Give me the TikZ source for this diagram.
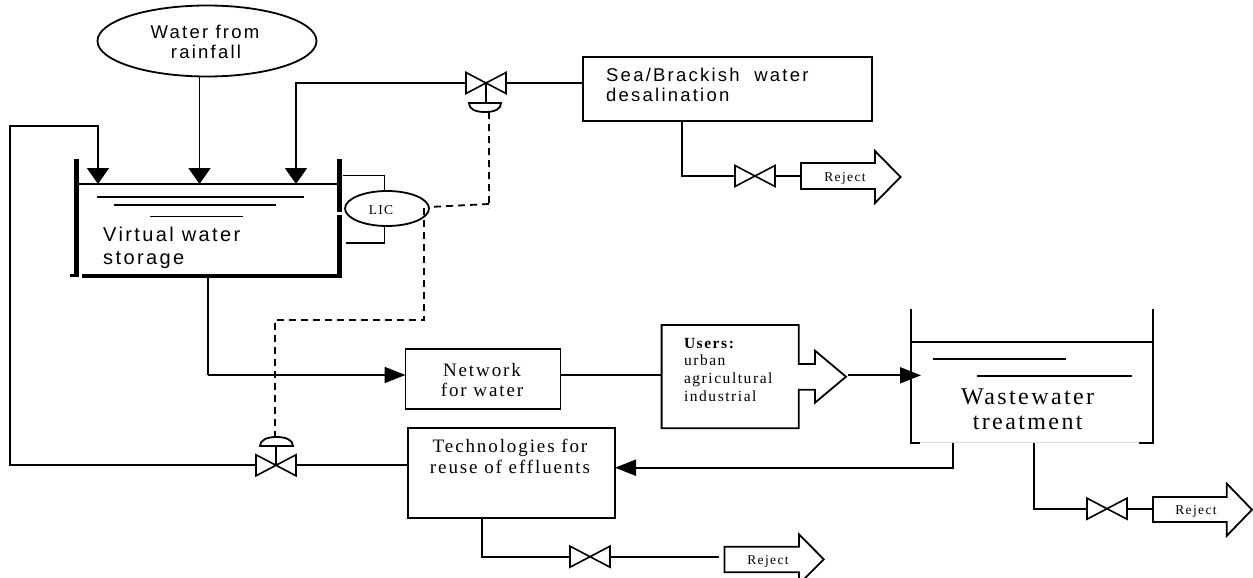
\documentclass[tikz,border=0pt]{standalone}
\usepackage{fontspec}
\setmainfont{Liberation Serif}
\newfontfamily\lsans[LetterSpace=12]{Liberation Sans}
\newfontfamily\lserif[LetterSpace=10]{Liberation Serif}
\usetikzlibrary{arrows.meta,shapes.geometric,calc}
\tikzset{
  pipe/.style={draw=black,line width=1.8pt},
  sig/.style={draw=black,line width=1.8pt,dash pattern=on 7pt off 5pt},
  hv/.style={pipe,-{Triangle[length=21pt,width=16pt]}},
  vv/.style={pipe,-{Triangle[length=16pt,width=22pt]}},
  blk/.style={draw=black,line width=1.8pt,inner sep=0pt,outer sep=0pt,rectangle},
  wall/.style={draw=black,line width=5pt},
  bvalve/.style={draw=black,line width=1.6pt,fill=white},
  stxt/.style={font=\fontsize{18.5}{18.5}\selectfont\lsans,inner sep=0pt,anchor=base west},
  vtxt/.style={font=\fontsize{20}{20}\selectfont\lsans,inner sep=0pt,anchor=base west},
  ctxt/.style={font=\fontsize{18.5}{18.5}\selectfont\lsans,inner sep=0pt,anchor=base},
  ttxt/.style={font=\fontsize{19}{19}\selectfont\lserif,inner sep=0pt,anchor=base},
  wtxt/.style={font=\fontsize{24}{24}\selectfont\lserif,inner sep=0pt,anchor=base},
  utxt/.style={font=\fontsize{15.5}{15.5}\selectfont\lserif,inner sep=0pt,anchor=base west},
  rtxt/.style={font=\fontsize{13.5}{13.5}\selectfont\lserif,inner sep=0pt,anchor=base},
}
\newcommand{\myvalve}[1]{%
  \draw[bvalve] ($(#1)+(-20,-10.5)$) -- ($(#1)+(20,10.5)$) -- ($(#1)+(20,-10.5)$) -- ($(#1)+(-20,10.5)$) -- cycle;}
\newcommand{\rejectarrow}[8]{% name x0 x1 tip ytop ybot ytip halfhead
  \draw[blk,fill=white] (#2,#5) -- (#3,#5) -- (#3,#7-#8) -- (#4,#7) -- (#3,#7+#8) -- (#3,#6) -- (#2,#6) -- cycle;
  \coordinate (#1) at (#2,#7);}
\begin{document}
\begin{tikzpicture}[x=1pt,y=-1pt]
\useasboundingbox (0,0) rectangle (1253,578);
\clip (0,0) rectangle (1253,578);
% rainfall
\node[draw,line width=1.8pt,ellipse,minimum width=219pt,minimum height=71pt,inner sep=0pt,outer sep=0pt] (rain) at (207,41) {};
\node[ctxt] (rt1) at (205,38.5) {Water from};
\node[ctxt] (rt2) at (206,59) {rainfall};
% virtual tank
\coordinate (tin1) at (98,184);
\coordinate (tin2) at (199.5,184);
\coordinate (tin3) at (296,184);
\draw[wall] (76.5,159) -- (76.5,275);
\draw[wall,line width=4pt] (82,275.5) -- (342,275.5);
\draw[wall,line width=3pt] (70,275.5) -- (79,275.5);
\draw[wall] (339.5,159) -- (339.5,212);
\draw[wall] (339.5,215) -- (339.5,277);
\draw[pipe] (79,184) -- (338,184);
\draw[pipe] (97,197) -- (304,197);
\draw[pipe] (114,205) -- (276,205);
\draw[pipe] (150,216.5) -- (243,216.5);
\node[vtxt] (vw1) at (103,241) {Virtual water};
\node[vtxt] (vw2) at (103,264) {storage};
\draw[vv] (rain.south -| tin2) -- (tin2);
% LIC
\node[draw,line width=1.8pt,ellipse,minimum width=84pt,minimum height=35pt,inner sep=0pt,outer sep=0pt] (lic) at (387,208.5) {};
\node[font=\fontsize{13.5}{13.5}\selectfont\lserif,inner sep=0pt] (lict) at (381,210.5) {LIC};
\draw[pipe] (342.5,175.5) -- (384.5,175.5) -- (384.5,191);
\draw[pipe] (384.5,226) -- (384.5,243) -- (345.5,243);
% desalination
\node[blk,minimum width=289pt,minimum height=64pt,anchor=north west] (sea) at (583,56.7) {};
\node[stxt] (st1) at (606,81.7) {Sea/Brackish\ \ water};
\node[stxt] (st2) at (606,101.7) {desalination};
\coordinate (v1) at (486,83);
\coordinate (v2) at (755,176);
\draw[pipe] (sea.west |- v1) -- (v1);
\draw[vv] (v1) -- (296,83) -- (tin3);
\draw[pipe] (486,83) -- (486,103);
\myvalve{v1}
\draw[pipe,fill=white] (469,103) -- (501,103) .. controls (501,109) and (495,112) .. (485,112) .. controls (475,112) and (469,109) .. (469,103) -- cycle;
\draw[sig] (489,112) -- (489,208) (489,204) -- (429,207);
\draw[pipe] (682,120.7) -- (682,176) -- (v2);
\draw[pipe] (v2) -- (801,176);
\myvalve{v2}
\rejectarrow{r1}{801}{875}{900.5}{163}{189}{177}{26}
\node[rtxt] (rj1) at (845,181) {Reject};
% network
\draw[pipe] (208,275) -- (208,375);
\node[blk,minimum width=155pt,minimum height=60pt,anchor=north west] (net) at (405.5,349) {};
\draw[hv] (208,375) -- (net.west |- 0,375);
\node[ttxt] (nt1) at (482,376) {Network};
\node[ttxt] (nt2) at (482,396) {for water};
% users
\draw[blk] (661.6,325) -- (798.8,325) -- (798.8,364) -- (815,364) -- (815,350.7) -- (846,376.7) -- (815,402.7) -- (815,389.7) -- (798.8,389.7) -- (798.8,428.3) -- (661.6,428.3) -- cycle;
\coordinate (uin) at (661.6,375.3);
\draw[pipe] (net.east |- uin) -- (uin);
\node[utxt,font=\fontsize{15.5}{15.5}\selectfont\lserif\bfseries] (ut1) at (683.8,348.3) {Users:};
\node[utxt] (ut2) at (683.8,365.3) {urban};
\node[utxt] (ut3) at (683.8,383.3) {agricultural};
\node[utxt] (ut4) at (683.8,401) {industrial};
% wastewater
\draw[draw=black!15,line width=.8pt] (911,442.7) -- (1153,442.7);
\draw[pipe] (920,442.7) -- (911,442.7) -- (911,308.7);
\draw[pipe] (1139,442.7) -- (1153.3,442.7) -- (1153.3,308.7);
\draw[pipe] (911,342.3) -- (1153.3,342.3);
\draw[pipe] (932.5,359) -- (1066,359);
\draw[pipe] (976.5,375.7) -- (1132,375.7);
\node[wtxt] (wt1) at (1027.7,404) {Wastewater};
\node[wtxt] (wt2) at (1027.7,429) {treatment};
\coordinate (win) at (921,375.3);
\draw[hv] (847.7,375.3) -- (win);
% reuse
\node[blk,minimum width=207pt,minimum height=90pt,anchor=north west] (tech) at (408,427.7) {};
\node[ttxt] (tt1) at (510,452) {Technologies for};
\node[ttxt] (tt2) at (510,473) {reuse of effluents};
\draw[hv] (953,443) -- (953,467.7) -- (tech.east |- 0,467.7);
\coordinate (v3) at (276,465.3);
\draw[vv] (v3) -- (10,465.3) -- (10,126) -- (98,126) -- (tin1);
\draw[pipe] (tech.west |- v3) -- (v3);
\draw[pipe] (276,465) -- (276,446);
\myvalve{v3}
\draw[pipe,fill=white] (260,446) -- (293,446) .. controls (293,440) and (286,437) .. (276.5,437) .. controls (267,437) and (260,440) .. (260,446) -- cycle;
\draw[sig] (424,208) -- (424,320) -- (275,320) -- (275,437);
% rejects
\coordinate (v4) at (590,556.7);
\draw[pipe] (481.6,517.7) -- (481.6,556.7) -- (v4);
\draw[pipe] (v4) -- (719,556.7);
\myvalve{v4}
\rejectarrow{r2}{724.5}{799}{823.7}{546.7}{572.3}{559.3}{25}
\node[rtxt] (rj2) at (768,564) {Reject};
\coordinate (v5) at (1107,508.7);
\draw[pipe] (1033.8,442.7) -- (1033.8,508.7) -- (v5);
\draw[pipe] (v5) -- (1153,508.7);
\myvalve{v5}
\rejectarrow{r3}{1153}{1226.8}{1252}{497}{522}{509.7}{26}
\node[rtxt] (rj3) at (1196,514.3) {Reject};
\end{tikzpicture}
\end{document}
